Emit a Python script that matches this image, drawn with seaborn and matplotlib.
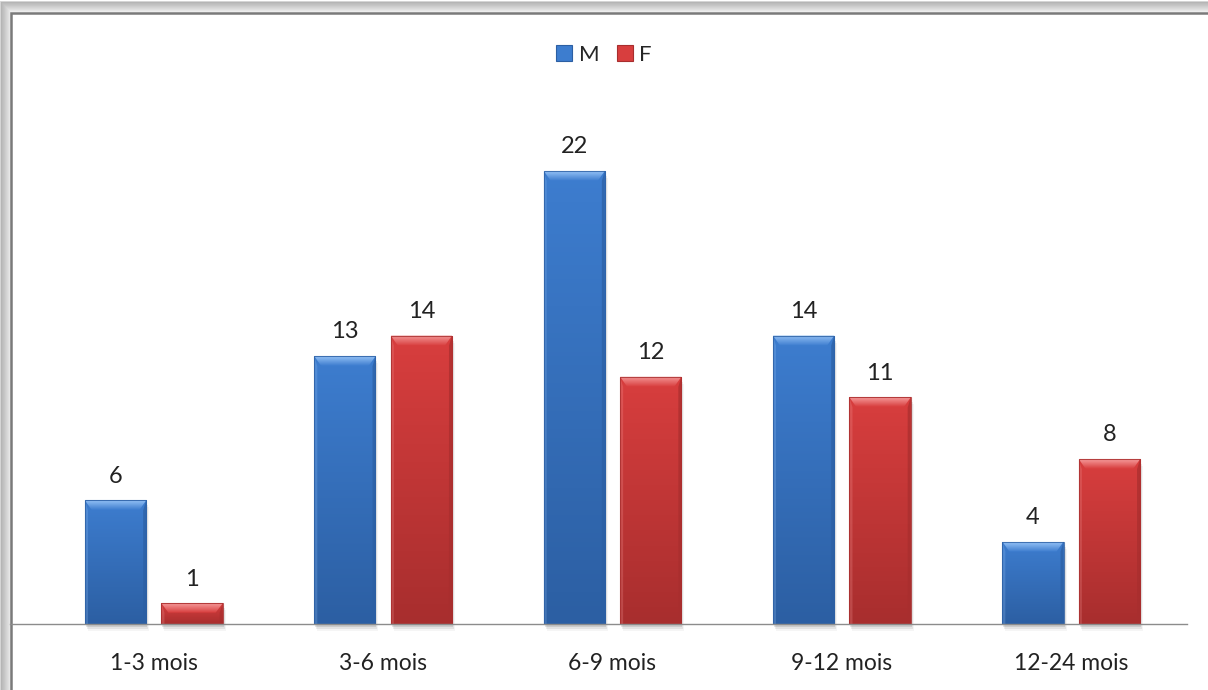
import numpy as np
import pandas as pd
import matplotlib
matplotlib.use("Agg")
import matplotlib.pyplot as plt
from matplotlib.patches import Rectangle, Polygon
from matplotlib.colors import LinearSegmentedColormap, to_rgb
import seaborn as sns

# Data: number of children per age bracket and sex
periodes = ["1-3 mois", "3-6 mois", "6-9 mois", "9-12 mois", "12-24 mois"]
garcons = [6, 13, 22, 14, 4]
filles = [1, 14, 12, 11, 8]
series = ["M", "F"]

df = pd.DataFrame({
    "periode": periodes * 2,
    "effectif": garcons + filles,
    "sexe": ["M"] * len(periodes) + ["F"] * len(periodes),
})

base_colors = {"M": "#3d7dcf", "F": "#d83e3e"}
dark_colors = {"M": "#2c5fa3", "F": "#a82e2e"}
light_colors = {"M": "#93c0f5", "F": "#f59a9a"}

sns.set_theme(style="white")
plt.rcParams["font.family"] = ["Lato", "DejaVu Sans"]

W, H = 1208, 690
fig = plt.figure(figsize=(W / 100, H / 100), dpi=100)
fig.patch.set_facecolor("white")

# Frame with a soft grey shadow along the top and left edges
for i, a in enumerate(np.linspace(0.04, 0.4, 12)):
    off = 12 - i
    fig.add_artist(Rectangle((off / W, -0.2), 1.5, (H - off - 1) / H + 0.2,
                             transform=fig.transFigure, fill=False,
                             edgecolor=(0, 0, 0, a * 0.45), lw=1.3, zorder=0))
fig.add_artist(Rectangle((11 / W, -0.2), 1.5, (H - 13) / H + 0.2,
                         transform=fig.transFigure, facecolor="white",
                         edgecolor="#7a7a7a", lw=1.8, zorder=1))

ax = fig.add_axes([10 / W, 66 / H, 1177 / W, (624 - 100) / H], zorder=2)
ax.patch.set_alpha(0)

sns.barplot(data=df, x="periode", y="effectif", hue="sexe", hue_order=series,
            palette=base_colors, width=0.667, gap=0.2, ax=ax, legend=False,
            edgecolor="none", linewidth=0, saturation=1)

xlim = (-0.627, 4.505)
ylim = (0, 524 / 20.6)
ax.set_xlim(*xlim)
ax.set_ylim(*ylim)

# pixel sizes in data units
px_x = (xlim[1] - xlim[0]) / 1177
px_y = (ylim[1] - ylim[0]) / 524

for cont, s in zip(ax.containers, series):
    cmap = LinearSegmentedColormap.from_list(
        s, [to_rgb(base_colors[s]), to_rgb(dark_colors[s])])
    bev_cmap = LinearSegmentedColormap.from_list(
        s + "b", [to_rgb(base_colors[s]), to_rgb(light_colors[s])])
    for bar in cont:
        x, w, h = bar.get_x(), bar.get_width(), bar.get_height()
        # drop shadow
        for k, a in enumerate([0.10, 0.07, 0.04]):
            ax.add_patch(Rectangle((x + (1 + k) * px_x, -(3 + 2 * k) * px_y),
                                   w, h, facecolor="black", alpha=a,
                                   lw=0, zorder=1, clip_on=False))
        bar.set_zorder(2)
        grad = np.linspace(0, 1, 100).reshape(-1, 1)
        im = ax.imshow(grad, cmap=cmap, extent=[x, x + w, 0, h],
                       origin="upper", aspect="auto", zorder=3)
        im.set_clip_path(bar)
        bx, by = 7 * px_x, 10 * px_y
        by = min(by, h * 0.45)
        bx_s = 3 * px_x
        # top bevel, shaded from light edge to the bar colour
        top = Polygon([(x, h), (x + w, h), (x + w - bx, h - by), (x + bx, h - by)],
                      closed=True, facecolor="none", lw=0, zorder=4)
        ax.add_patch(top)
        bim = ax.imshow(np.linspace(1, 0.15, 20).reshape(-1, 1), cmap=bev_cmap,
                        extent=[x, x + w, h - by, h], origin="upper",
                        aspect="auto", zorder=4)
        bim.set_clip_path(top)
        # left and right bevels
        ax.add_patch(Polygon([(x, h), (x + bx_s, h - by), (x + bx_s, 0), (x, 0)],
                             closed=True, facecolor=light_colors[s], alpha=0.25, lw=0, zorder=5))
        ax.add_patch(Polygon([(x + w, h), (x + w - bx_s, h - by), (x + w - bx_s, 0), (x + w, 0)],
                             closed=True, facecolor=dark_colors[s], alpha=0.7, lw=0, zorder=5))
        # thin outline
        ax.add_patch(Rectangle((x, 0), w, h, fill=False, edgecolor=dark_colors[s],
                               lw=0.8, alpha=0.8, zorder=6))
    ax.bar_label(cont, padding=10, fontsize=17, color="#222222")

ax.set_xlim(*xlim)
ax.set_ylim(*ylim)

for sp in ["top", "right", "left"]:
    ax.spines[sp].set_visible(False)
ax.spines["bottom"].set_color("#8c8c8c")
ax.spines["bottom"].set_linewidth(1.0)
ax.spines["bottom"].set_zorder(7)
ax.set_yticks([])
ax.set_xlabel("")
ax.set_ylabel("")
ax.tick_params(axis="x", length=0, pad=21, labelsize=16.5, labelcolor="#222222")

handles = [Rectangle((0, 0), 1, 1, facecolor=base_colors[s],
                     edgecolor=dark_colors[s], lw=0.8) for s in series]
fig.legend(handles, series, loc="center", bbox_to_anchor=(0.5, 1 - 55 / H),
           ncol=2, frameon=False, fontsize=16, handlelength=0.7,
           handleheight=0.7, handletextpad=0.3, columnspacing=0.8)

fig.savefig("out.png", dpi=100)
